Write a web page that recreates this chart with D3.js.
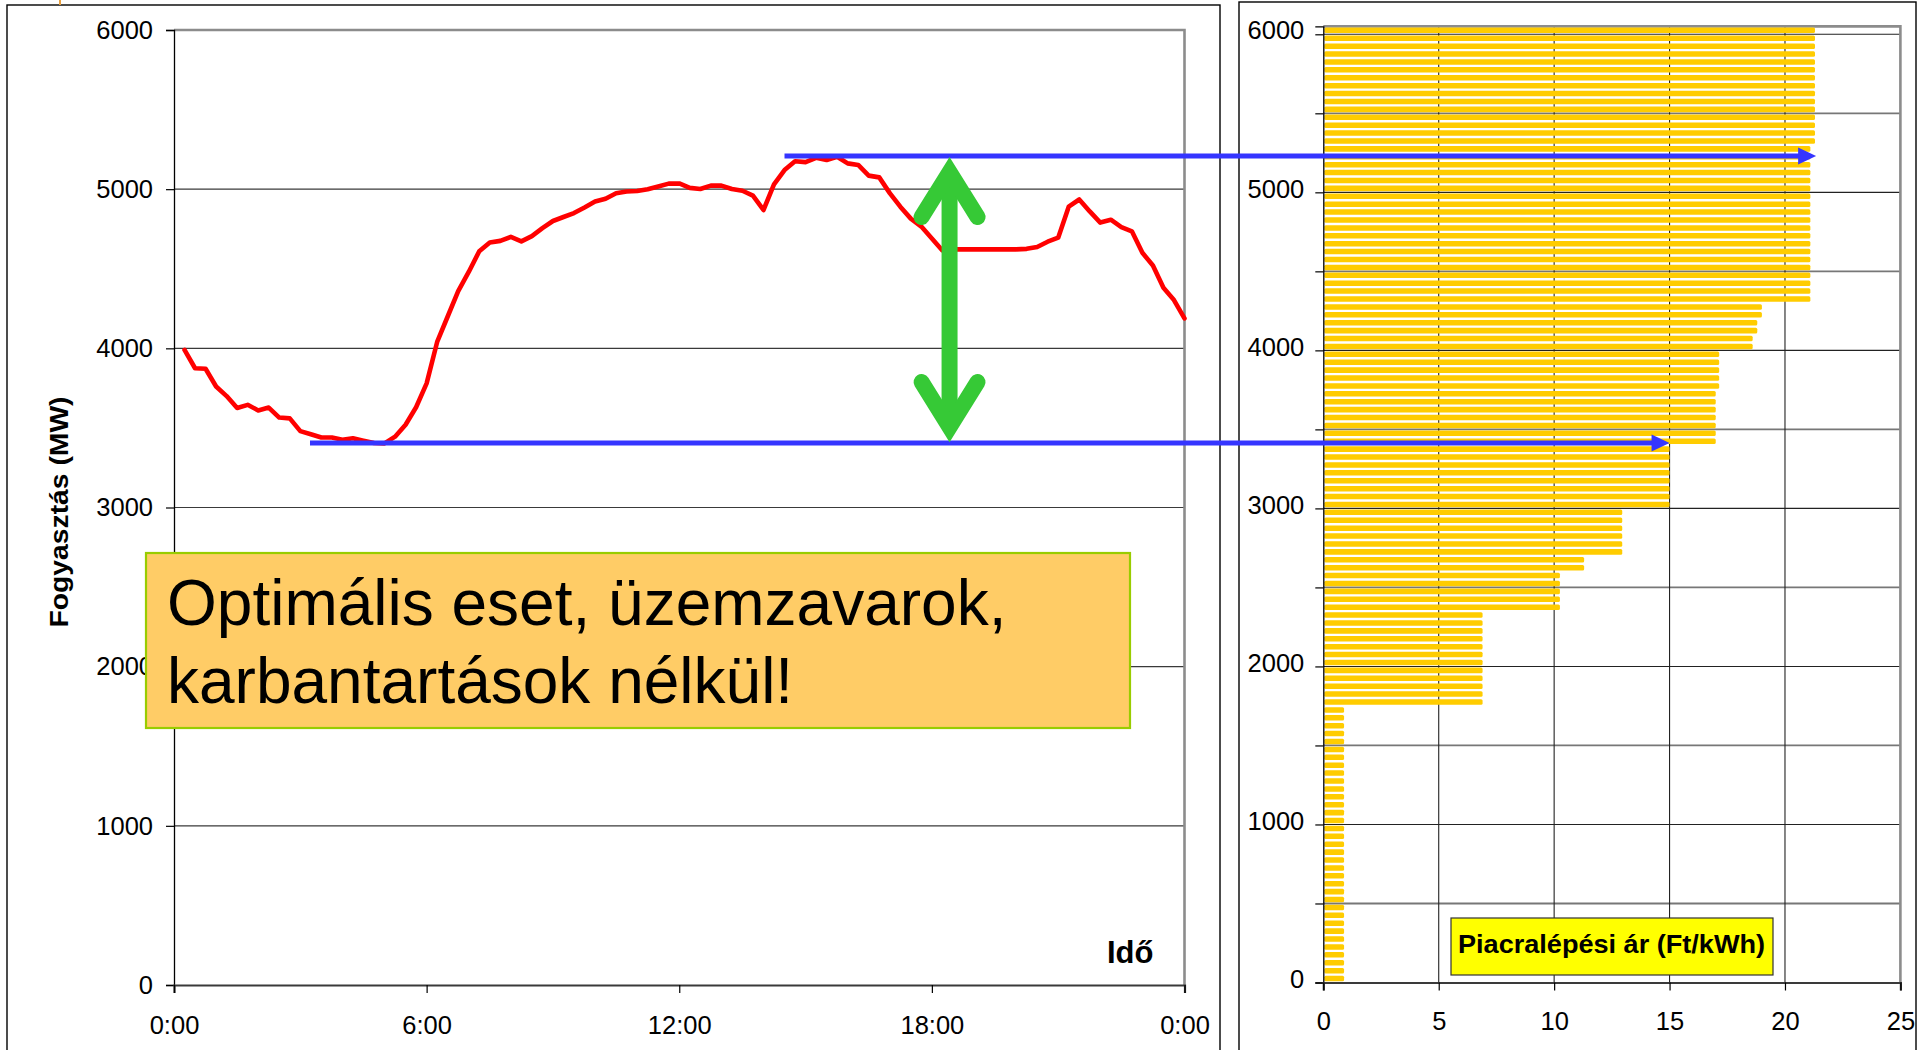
<!DOCTYPE html>
<html><head><meta charset="utf-8">
<script src="https://cdn.jsdelivr.net/npm/d3@7"></script>
<style>
html,body{margin:0;padding:0;background:#fff;}
svg{display:block;font-family:"Liberation Sans",Arial,sans-serif;}
</style></head><body>
<svg id="c" width="1924" height="1050"></svg>
<script>
// ---------------- DATA ----------------
// System load (MW), 15-minute steps from 0:15 to 24:00
const loadMW = [
  3990, 3875, 3872, 3760, 3700, 3625, 3645, 3610,
  3628, 3565, 3560, 3480, 3460, 3440, 3440, 3425,
  3435, 3420, 3405, 3403, 3445, 3520, 3630, 3780,
  4040, 4200, 4360, 4480, 4610, 4665, 4675, 4700,
  4672, 4705, 4755, 4800, 4825, 4850, 4885, 4922,
  4940, 4974, 4985, 4988, 5000, 5017, 5035, 5036,
  5008, 5001, 5022, 5022, 5001, 4990, 4960, 4869,
  5030, 5120, 5175, 5170, 5197, 5183, 5204, 5162,
  5152, 5085, 5074, 4975, 4890, 4815, 4765, 4690,
  4615, 4622, 4622, 4622, 4622, 4622, 4622, 4622,
  4625, 4637, 4670, 4695, 4890, 4935, 4860, 4790,
  4808, 4762, 4735, 4600, 4520, 4380, 4303, 4188
];
const loadStepHours = 0.25;
const timeTickHours = [0, 6, 12, 18, 24];
const timeTickLabels = ["0:00", "6:00", "12:00", "18:00", "0:00"];
const loadTicks = [0, 1000, 2000, 3000, 4000, 5000, 6000];

// Merit order: market entry price (Ft/kWh) of each 50 MW capacity block, from 0 MW upward
const blockMW = 50;
const meritPrice = [
  0.9, 0.9, 0.9, 0.9, 0.9, 0.9, 0.9, 0.9, 0.9, 0.9,
  0.9, 0.9, 0.9, 0.9, 0.9, 0.9, 0.9, 0.9, 0.9, 0.9,
  0.9, 0.9, 0.9, 0.9, 0.9, 0.9, 0.9, 0.9, 0.9, 0.9,
  0.9, 0.9, 0.9, 0.9, 0.9,
  6.9, 6.9, 6.9, 6.9, 6.9, 6.9, 6.9, 6.9, 6.9, 6.9, 6.9, 6.9,
  10.25, 10.25, 10.25, 10.25, 10.25,
  11.3, 11.3,
  12.95, 12.95, 12.95, 12.95, 12.95, 12.95,
  15.0, 15.0, 15.0, 15.0, 15.0, 15.0, 15.0, 15.0,
  17.0, 17.0, 17.0, 17.0, 17.0, 17.0, 17.0,
  17.15, 17.15, 17.15, 17.15, 17.15,
  18.6, 18.6,
  18.8, 18.8,
  19.0, 19.0,
  21.1, 21.1, 21.1, 21.1, 21.1, 21.1, 21.1, 21.1, 21.1, 21.1,
  21.1, 21.1, 21.1, 21.1, 21.1, 21.1, 21.1, 21.1, 21.1, 21.1,
  21.3, 21.3, 21.3, 21.3, 21.3, 21.3, 21.3, 21.3, 21.3, 21.3,
  21.3, 21.3, 21.3, 21.3, 21.3
];
const priceTicks = [0, 5, 10, 15, 20, 25];
const capacityLabelTicks = [0, 1000, 2000, 3000, 4000, 5000, 6000];
const capacityMinorTicks = [0, 500, 1000, 1500, 2000, 2500, 3000, 3500, 4000, 4500, 5000, 5500, 6000];

// Annotation values
const peakLine = { mw: 5208, fromHour: 14.5, toPrice: 21.35 };
const baseLine = { mw: 3405, fromHour: 3.23, toPrice: 15.0 };
const spanArrowHour = 18.42;
const noteLines = ["Optimális eset, üzemzavarok,", "karbantartások nélkül!"];
const yTitle = "Fogyasztás (MW)";
const xTitle = "Idő";
const priceTitle = "Piacralépési ár (Ft/kWh)";

// ---------------- DRAW ----------------
const svg = d3.select("#c");
const FONT = "'Liberation Sans', Arial, sans-serif";

// frames
svg.append("rect").attr("x", 7).attr("y", 5).attr("width", 1213).attr("height", 1100)
  .attr("fill", "none").attr("stroke", "#000").attr("stroke-width", 1.4);
svg.append("rect").attr("x", 1239).attr("y", 2).attr("width", 677).attr("height", 1100)
  .attr("fill", "none").attr("stroke", "#000").attr("stroke-width", 1.4);
svg.append("line").attr("x1", 60).attr("x2", 60).attr("y1", 0).attr("y2", 5)
  .attr("stroke", "#E8A040").attr("stroke-width", 2);

// ---- left chart ----
const xL = d3.scaleLinear().domain([0, 24]).range([174, 1184.5]);
const yL = d3.scaleLinear().domain([0, 6000]).range([985, 30]);
const L = svg.append("g");

// gridlines
L.append("g").selectAll("line").data(loadTicks.filter(d => d > 0 && d < 6000)).join("line")
  .attr("x1", xL(0)).attr("x2", xL(24)).attr("y1", d => yL(d)).attr("y2", d => yL(d))
  .attr("stroke", "#3a3a3a").attr("stroke-width", 1.1);
// plot border top/right (gray)
L.append("path").attr("d", `M${xL(0)},${yL(6000)}H${xL(24)}V${yL(0)}`)
  .attr("fill", "none").attr("stroke", "#8c8c8c").attr("stroke-width", 2.6);

// axes
const axL = L.append("g").attr("transform", `translate(${xL(0)},0)`)
  .call(d3.axisLeft(yL).tickValues(loadTicks).tickSize(8).tickPadding(13).tickFormat(d3.format("d")));
const axB = L.append("g").attr("transform", `translate(0,${yL(0)})`)
  .call(d3.axisBottom(xL).tickValues(timeTickHours).tickSize(8).tickPadding(23)
    .tickFormat((d, i) => timeTickLabels[i]));
axL.select(".domain").attr("stroke", "#000").attr("stroke-width", 1.3);
axB.select(".domain").attr("stroke", "#3a3a3a").attr("stroke-width", 2.2);
[axL, axB].forEach(a => {
  a.selectAll(".tick line").attr("stroke", "#000").attr("stroke-width", 1.2);
  a.selectAll("text").attr("font-family", FONT).attr("font-size", 25.5).attr("fill", "#000");
});

// load line
const line = d3.line().x((d, i) => xL((i + 1) * loadStepHours)).y(d => yL(d));
L.append("path").datum(loadMW).attr("d", line)
  .attr("fill", "none").attr("stroke", "#ff0000").attr("stroke-width", 4.6)
  .attr("stroke-linejoin", "round").attr("stroke-linecap", "round");

// titles
L.append("text").attr("transform", `translate(68,512) rotate(-90)`)
  .attr("text-anchor", "middle").attr("font-family", FONT).attr("font-weight", "bold")
  .attr("font-size", 25).attr("textLength", 231).attr("lengthAdjust", "spacingAndGlyphs")
  .text(yTitle);
L.append("text").attr("x", 1107).attr("y", 963).attr("font-family", FONT)
  .attr("font-weight", "bold").attr("font-size", 31).text(xTitle);

// ---- right chart ----
const xR = d3.scaleLinear().domain([0, 25]).range([1323.3, 1900.4]);
const yR = d3.scaleLinear().domain([0, 6050]).range([982.5, 26.4]);
const levels = meritPrice.map((p, i) => i * blockMW);
const yBand = d3.scaleBand().domain(levels.slice().reverse()).range([26.4, 982.5]).paddingInner(0.3).paddingOuter(0.15);
const R = svg.append("g");

// gridlines
R.append("g").selectAll("line").data(capacityMinorTicks.filter(d => d > 0)).join("line")
  .attr("x1", xR(0)).attr("x2", xR(25)).attr("y1", d => yR(d)).attr("y2", d => yR(d))
  .attr("stroke", d => d % 1000 === 0 ? "#222" : "#777").attr("stroke-width", d => d % 1000 === 0 ? 1.1 : 1.8);
R.append("g").selectAll("line").data(priceTicks.filter(d => d > 0 && d < 25)).join("line")
  .attr("x1", d => xR(d)).attr("x2", d => xR(d)).attr("y1", yR(6050)).attr("y2", yR(0))
  .attr("stroke", "#222").attr("stroke-width", 1.1);
R.append("path").attr("d", `M${xR(0)},${yR(6050)}H${xR(25)}V${yR(0)}`)
  .attr("fill", "none").attr("stroke", "#8c8c8c").attr("stroke-width", 2.6);

// bars
R.append("g").selectAll("rect").data(meritPrice).join("rect")
  .attr("x", xR(0) + 1).attr("y", (d, i) => yBand(levels[i]))
  .attr("width", d => xR(d) - xR(0) - 1).attr("height", yBand.bandwidth())
  .attr("rx", 1.5).attr("fill", "#FFCC00");

// axes
const axRL = R.append("g").attr("transform", `translate(${xR(0)},0)`)
  .call(d3.axisLeft(yR).tickValues(capacityMinorTicks).tickSize(8).tickPadding(11)
    .tickFormat(d => capacityLabelTicks.includes(d) ? d3.format("d")(d) : ""));
const axRB = R.append("g").attr("transform", `translate(0,${yR(0)})`)
  .call(d3.axisBottom(xR).tickValues(priceTicks).tickSize(8).tickPadding(21).tickFormat(d3.format("d")));
axRL.select(".domain").attr("stroke", "#000").attr("stroke-width", 1.3);
axRB.select(".domain").attr("stroke", "#3a3a3a").attr("stroke-width", 2.2);
[axRL, axRB].forEach(a => {
  a.selectAll(".tick line").attr("stroke", "#000").attr("stroke-width", 1.2);
  a.selectAll("text").attr("font-family", FONT).attr("font-size", 25.5).attr("fill", "#000");
});
axRL.selectAll("text").attr("y", -3.5);

// price legend box
R.append("rect").attr("x", 1451).attr("y", 918).attr("width", 322).attr("height", 57)
  .attr("fill", "#FFFF00").attr("stroke", "#333").attr("stroke-width", 1.2);
R.append("text").attr("x", 1458).attr("y", 953).attr("font-family", FONT).attr("font-weight", "bold")
  .attr("font-size", 26).attr("textLength", 307).attr("lengthAdjust", "spacingAndGlyphs").text(priceTitle);

// ---- annotations ----
const A = svg.append("g");
const BLUE = "#3535ff";
[peakLine, baseLine].forEach(b => {
  const y = yL(b.mw), x0 = xL(b.fromHour), x1 = xR(b.toPrice);
  A.append("line").attr("x1", x0).attr("x2", x1 - 10).attr("y1", y).attr("y2", y)
    .attr("stroke", BLUE).attr("stroke-width", 5);
  A.append("path").attr("d", `M${x1},${y}L${x1 - 18},${y - 8.5}L${x1 - 18},${y + 8.5}Z`).attr("fill", BLUE);
});

// green double arrow
const GREEN = "#36c936";
const gx = xL(spanArrowHour), gt = yL(peakLine.mw), gb = yL(baseLine.mw);
A.append("line").attr("x1", gx).attr("x2", gx).attr("y1", gt + 20).attr("y2", gb - 20)
  .attr("stroke", GREEN).attr("stroke-width", 16);
A.append("path").attr("d", `M${gx - 28},${gt + 16 + 45}L${gx},${gt + 16}L${gx + 28},${gt + 16 + 45}`)
  .attr("fill", "none").attr("stroke", GREEN).attr("stroke-width", 16)
  .attr("stroke-linejoin", "miter").attr("stroke-linecap", "round");
A.append("path").attr("d", `M${gx - 28},${gb - 16 - 45}L${gx},${gb - 16}L${gx + 28},${gb - 16 - 45}`)
  .attr("fill", "none").attr("stroke", GREEN).attr("stroke-width", 16)
  .attr("stroke-linejoin", "miter").attr("stroke-linecap", "round");

// note box
A.append("rect").attr("x", 146).attr("y", 553).attr("width", 984).attr("height", 175)
  .attr("fill", "#FFCC66").attr("stroke", "#99CC00").attr("stroke-width", 2.2);
A.selectAll("text.note").data(noteLines).join("text").attr("class", "note")
  .attr("x", 167).attr("y", (d, i) => 625 + i * 78)
  .attr("font-family", FONT).attr("font-size", 64).attr("fill", "#000").text(d => d);
</script>
</body></html>
